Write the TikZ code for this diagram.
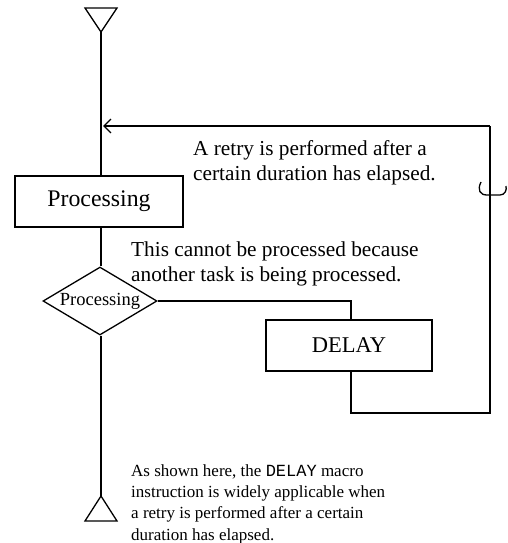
\documentclass[tikz,border=0pt]{standalone}
\usepackage{fontspec}
\setmainfont{Liberation Serif}
\setmonofont{Liberation Mono}
\usetikzlibrary{arrows.meta,shapes.geometric}
\begin{document}
\begin{tikzpicture}[x=1pt,y=-1pt,
  line/.style={line width=1.3pt},
  boxnode/.style={draw,line width=1.3pt,minimum width=#1,minimum height=51pt,inner sep=0pt},
  txt/.style={anchor=base west,inner sep=0pt,align=left}]
\useasboundingbox (0,0) rectangle (508,543);
% top terminal
\draw[line] (85,8) -- (117,8) -- (101,32) -- cycle;
\coordinate (topt) at (101,32);
% boxes
\node[boxnode=168pt,font=\fontsize{23.8}{26}\selectfont] (proc) at (99,201.5) {Processing};
\node[diamond,draw,line width=1.3pt,aspect=1.73,minimum width=114pt,minimum height=68pt,inner sep=0pt,font=\fontsize{18.5}{20}\selectfont] (dia) at (100,301) {Processing};
\node[boxnode=166pt,font=\fontsize{22.5}{24}\selectfont] (delay) at (349,345.5) {DELAY};
% bottom terminal
\draw[line] (101,496) -- (117,521) -- (85,521) -- cycle;
\coordinate (bott) at (101,496);
% connectors
\draw[line] (topt) -- (proc.north -| topt);
\draw[line] (proc.south -| topt) -- (dia.north -| topt);
\draw[line] (dia.south -| topt) -- (bott);
\draw[line] (dia.east) -- (351,301) -- (delay.north -| 351,0);
\coordinate (retry) at (490,126);
\draw[line] (delay.south -| 351,0) -- (351,413) -- (490,413) -- (retry);
\draw[line,-{Straight Barb[length=7pt,width=14pt]}] (retry) -- (103,126);
% jump
\draw[line] (481,182) .. controls (477,190) and (480,195) .. (487,195) -- (500,195) .. controls (505,195) and (507,190) .. (506,186);
% texts
\node[txt,font=\fontsize{21.3}{24.5}\selectfont] (t1) at (193,180) {A retry is performed after a\\certain duration has elapsed.};
\node[txt,font=\fontsize{21.3}{24.5}\selectfont] (t2) at (131,281) {This cannot be processed because\\another task is being processed.};
\node[txt,font=\fontsize{17}{21.3}\selectfont] (t3) at (131,540) {As shown here, the \texttt{DELAY} macro\\instruction is widely applicable when\\a retry is performed after a certain\\duration has elapsed.};
\end{tikzpicture}
\end{document}
